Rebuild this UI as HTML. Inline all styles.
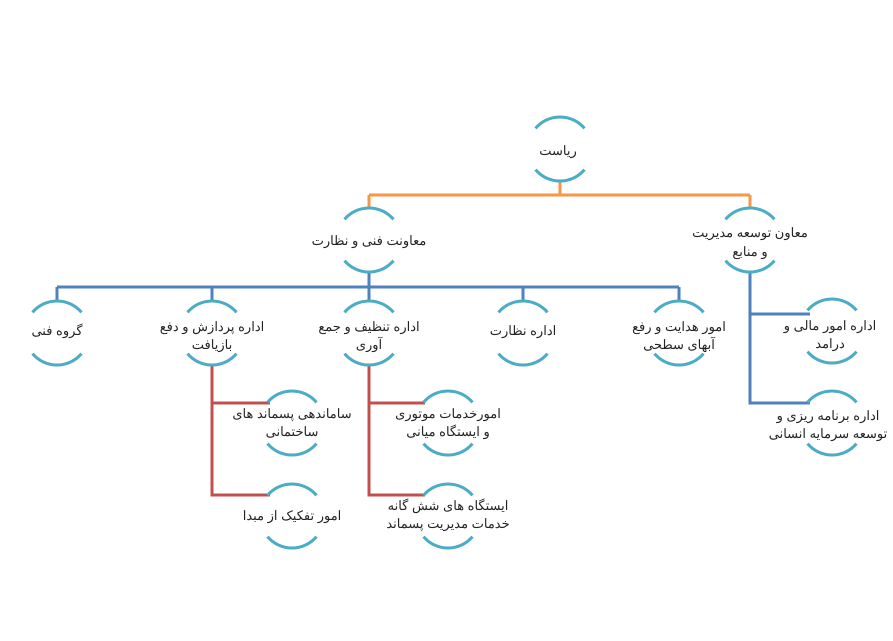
<!DOCTYPE html>
<html><head><meta charset="utf-8"><style>
html,body{margin:0;padding:0;background:#fff;}
svg text{font-family:"Liberation Sans","Noto Sans CJK SC",sans-serif;font-size:13px;fill:#222;}
</style></head><body>
<svg width="893" height="636" viewBox="0 0 893 636" xmlns="http://www.w3.org/2000/svg">
<defs>
<path id="a" d="M-24.5 -20.6 A32 32 0 0 1 24.5 -20.6 M-24.5 20.6 A32 32 0 0 0 24.5 20.6"/>
</defs>
<g fill="none" stroke-width="3">
<path d="M560 182 V195 M369 195 H750 M369 195 V208 M750 195 V208" stroke="#f79646"/>
<path d="M369 273 V287 M57 287 H679 M57 287 V300 M212 287 V300 M369 287 V300 M523 287 V300 M679 287 V300" stroke="#4f81bd"/>
<path d="M750 273 V403 H810 M750 314 H810" stroke="#4f81bd"/>
<path d="M212 365 V495 H270 M212 403 H270 M369 365 V495 H425 M369 403 H425" stroke="#c0504d"/>
</g>
<g fill="none" stroke="#4bacc6" stroke-width="3">
<use href="#a" x="560" y="149"/>
<use href="#a" x="369" y="240"/>
<use href="#a" x="750" y="240"/>
<use href="#a" x="57" y="333"/>
<use href="#a" x="212" y="333"/>
<use href="#a" x="369" y="333"/>
<use href="#a" x="523" y="333"/>
<use href="#a" x="679" y="333"/>
<use href="#a" x="832" y="331"/>
<use href="#a" x="832" y="423"/>
<use href="#a" x="292" y="423"/>
<use href="#a" x="292" y="516"/>
<use href="#a" x="448" y="423"/>
<use href="#a" x="448" y="516"/>
</g>
<g text-anchor="middle" direction="rtl">
<text x="558" y="155">ریاست</text>
<text x="369" y="245">معاونت فنی و نظارت</text>
<text x="750" y="237">معاون توسعه مدیریت</text>
<text x="750" y="256">و منابع</text>
<text x="57" y="335">گروه فنی</text>
<text x="212" y="331">اداره پردازش و دفع</text>
<text x="212" y="349">بازیافت</text>
<text x="369" y="331">اداره تنظیف و جمع</text>
<text x="369" y="349">آوری</text>
<text x="523" y="335">اداره نظارت</text>
<text x="679" y="331">امور هدایت و رفع</text>
<text x="679" y="349">آبهای سطحی</text>
<text x="830" y="330">اداره امور مالی و</text>
<text x="830" y="348">درامد</text>
<text x="828" y="420">اداره برنامه ریزی و</text>
<text x="828" y="438">توسعه سرمایه انسانی</text>
<text x="292" y="418">ساماندهی پسماند های</text>
<text x="292" y="436">ساختمانی</text>
<text x="292" y="520">امور تفکیک از مبدا</text>
<text x="448" y="418">امورخدمات موتوری</text>
<text x="448" y="436">و ایستگاه میانی</text>
<text x="448" y="510">ایستگاه های شش گانه</text>
<text x="448" y="528">خدمات مدیریت پسماند</text>
</g>
</svg>
</body></html>
